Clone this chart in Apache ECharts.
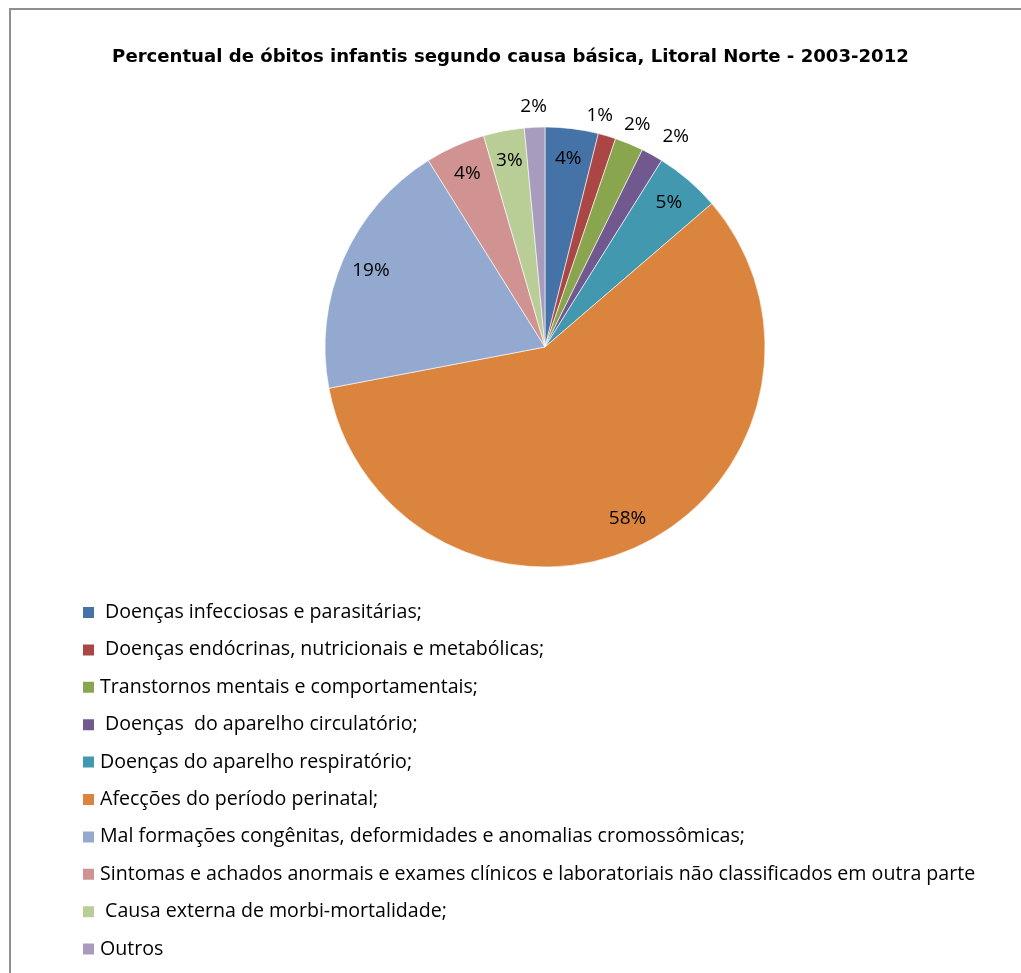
<!DOCTYPE html>
<html>
<head>
<meta charset="utf-8">
<script src="https://cdn.jsdelivr.net/npm/echarts@6/dist/echarts.min.js"></script>
<style>
  html, body { margin: 0; padding: 0; background: #fff; }
  #chart { width: 1021px; height: 973px; }
</style>
</head>
<body>
<div id="chart"></div>
<script>
// Causes of infant deaths, Litoral Norte 2003-2012 (percent of total)
const categories = [
  ' Doenças infecciosas e parasitárias;',
  ' Doenças endócrinas, nutricionais e metabólicas;',
  'Transtornos mentais e comportamentais;',
  ' Doenças  do aparelho circulatório;',
  'Doenças do aparelho respiratório;',
  'Afecções do período perinatal;',
  'Mal formações congênitas, deformidades e anomalias cromossômicas;',
  'Sintomas e achados anormais e exames clínicos e laboratoriais não classificados em outra parte',
  ' Causa externa de morbi-mortalidade;',
  'Outros'
];
const percentValues = [3.9, 1.3, 2.1, 1.6, 4.8, 58.3, 19.1, 4.4, 3.0, 1.5];
const sliceColors = ['#4572A7', '#AA4643', '#89A54E', '#71588F', '#4198AF',
                     '#DB843D', '#93A9CF', '#D19392', '#B9CD96', '#A99BBD'];

const FONT = '"Open Sans"';
const CX = 545, CY = 347, R = 220;
const SMALL = 2.5; // slices below this get their label outside the pie

const fmt = p => Math.round(p.value) + '%';
const labelStyle = { color: '#000', fontFamily: FONT, fontSize: 19, formatter: fmt };

const baseData = categories.map((name, i) => ({
  name, value: percentValues[i], itemStyle: { color: sliceColors[i] }
}));

// Runs of thin neighbouring slices: fan their outer labels apart
const n = percentValues.length;
const isSmall = i => percentValues[(i + n) % n] < SMALL;
function outerSide(i) {
  const prev = isSmall(i - 1), next = isSmall(i + 1);
  if (prev && next) return 0;
  if (next) return -1;
  if (prev) return 1;
  return 0;
}

const chart = echarts.init(document.getElementById('chart'), null, { renderer: 'canvas' });
chart.setOption({
  animation: false,
  title: {
    text: 'Percentual de óbitos infantis segundo causa básica, Litoral Norte - 2003-2012',
    left: 'center',
    top: 48,
    padding: 0,
    textStyle: { fontFamily: '"DejaVu Sans"', fontWeight: 'bold', fontSize: 18.1, color: '#000' }
  },
  legend: {
    orient: 'vertical',
    left: 81,
    top: 602.5,
    padding: 0,
    itemWidth: 13,
    itemHeight: 13,
    itemGap: 17.4,
    icon: 'rect',
    selectedMode: false,
    textStyle: { fontFamily: FONT, fontSize: 19.6, color: '#000', lineHeight: 20 },
    data: categories
  },
  graphic: [{
    type: 'rect',
    shape: { x: 10, y: 9, width: 1200, height: 1200 },
    style: { fill: 'none', stroke: '#8f8f8f', lineWidth: 2 },
    silent: true
  }],
  series: [
    {
      type: 'pie',
      center: [CX, CY],
      radius: [0, R],
      startAngle: 90,
      clockwise: true,
      label: { show: false },
      labelLine: { show: false },
      emphasis: { disabled: true },
      itemStyle: { borderColor: '#fff', borderWidth: 0.6 },
      data: baseData
    },
    {
      // transparent ring carrying the labels placed inside the slices
      type: 'pie',
      center: [CX, CY],
      radius: [R * 0.70, R],
      startAngle: 90,
      silent: true,
      emphasis: { disabled: true },
      labelLine: { show: false },
      labelLayout: { hideOverlap: false },
      data: baseData.map(d => ({
        name: d.name, value: d.value,
        itemStyle: { color: 'rgba(0,0,0,0)' },
        label: Object.assign({ show: d.value >= SMALL, position: 'inside' }, labelStyle)
      }))
    },
    {
      // transparent ring outside the pie for labels of the thin slices
      type: 'pie',
      center: [CX, CY],
      radius: [R, R * 1.165],
      startAngle: 90,
      silent: true,
      emphasis: { disabled: true },
      labelLine: { show: false },
      labelLayout: function (params) {
        return {
          hideOverlap: false,
          dx: outerSide(params.dataIndex) * params.labelRect.width / 2
        };
      },
      data: baseData.map(d => ({
        name: d.name, value: d.value,
        itemStyle: { color: 'rgba(0,0,0,0)' },
        label: Object.assign({ show: d.value < SMALL, position: 'inside' }, labelStyle)
      }))
    }
  ]
});
</script>
</body>
</html>
